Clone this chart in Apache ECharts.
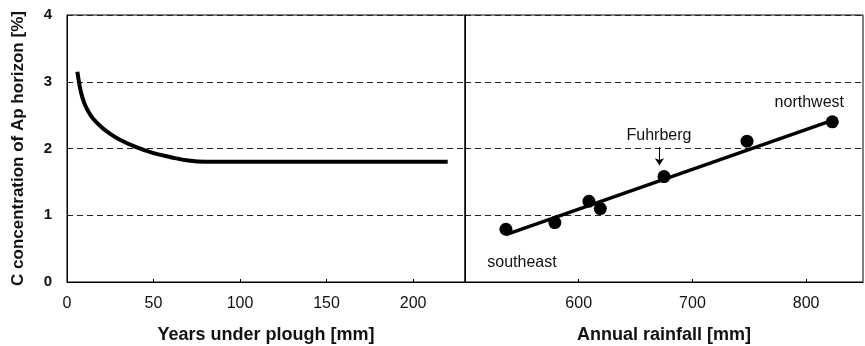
<!DOCTYPE html>
<html>
<head>
<meta charset="utf-8">
<script src="https://cdn.jsdelivr.net/npm/echarts@6/dist/echarts.min.js"></script>
<style>
  html, body { margin: 0; padding: 0; background: #fff; }
  #chart { width: 865px; height: 346px; }
</style>
</head>
<body>
<div id="chart"></div>
<script>
// left panel: C concentration vs years under plough
const ploughYears = [6, 8, 10, 12, 15, 20, 25, 30, 40, 50, 60, 70, 80, 100, 150, 220]
const ploughCarbon = [3.15, 2.85, 2.68, 2.57, 2.45, 2.32, 2.22, 2.14, 2.02, 1.93, 1.87, 1.82, 1.80, 1.80, 1.80, 1.80]

// right panel: C concentration vs annual rainfall
const rainfall = [536, 579, 609, 619, 675, 748, 823]
const rainCarbon = [0.79, 0.89, 1.21, 1.10, 1.58, 2.11, 2.40]
const siteNames = ['southeast', '', '', '', 'Fuhrberg', '', 'northwest']
const fitLine = [[536, 0.71], [823, 2.42]]
const fuhrbergArrow = [[671, 2.02], [671, 1.75]]

const yTicks = ['0', '1', '2', '3', '4']

const FONT = "'Liberation Sans', Arial, sans-serif"

const labelOffsets = {
  southeast: [16, 14],
  Fuhrberg: [-5, -21],
  northwest: [-23, 0],
}

const chart = echarts.init(document.getElementById('chart'), null, { renderer: 'canvas' })

const splitLine = { show: true, lineStyle: { color: '#222', type: [6, 4], width: 1 } }

const scatterData = rainfall.map((x, i) => {
  const name = siteNames[i]
  const item = { value: [x, rainCarbon[i]] }
  if (name) {
    item.label = {
      show: true,
      formatter: name,
      position: name === 'southeast' ? 'bottom' : 'top',
      offset: labelOffsets[name],
    }
  }
  return item
})

const option = {
  backgroundColor: '#fff',
  animation: false,
  textStyle: { fontFamily: FONT },
  grid: [
    { left: 67, top: 15, width: 398, height: 267, show: true, borderColor: '#000', borderWidth: 1, outerBoundsMode: 'none', containLabel: false },
    { left: 465, top: 15, width: 398, height: 267, show: true, borderColor: '#000', borderWidth: 1, outerBoundsMode: 'none', containLabel: false },
  ],
  xAxis: [
    {
      gridIndex: 0, type: 'value', min: 0, max: 230, interval: 50,
      name: 'Years under plough [mm]', nameLocation: 'middle', nameGap: 44,
      nameTextStyle: { fontSize: 18, fontWeight: 'bold', color: '#111', fontFamily: FONT },
      axisLine: { show: true, lineStyle: { color: '#000' } },
      axisTick: { show: true, inside: true, length: 3, lineStyle: { color: '#000' } },
      axisLabel: { fontSize: 16, color: '#111', margin: 14, showMaxLabel: false, fontFamily: FONT },
      splitLine: { show: false },
    },
    {
      gridIndex: 1, type: 'value', min: 500, max: 850, interval: 100,
      name: 'Annual rainfall [mm]', nameLocation: 'middle', nameGap: 44,
      nameTextStyle: { fontSize: 18, fontWeight: 'bold', color: '#111', fontFamily: FONT },
      axisLine: { show: true, lineStyle: { color: '#000' } },
      axisTick: { show: true, inside: true, length: 3, lineStyle: { color: '#000' } },
      axisLabel: { fontSize: 16, color: '#111', margin: 14, showMinLabel: false, showMaxLabel: false, fontFamily: FONT },
      splitLine: { show: false },
    },
  ],
  yAxis: [
    {
      gridIndex: 0, type: 'value', min: 0, max: 4, interval: 1,
      name: 'C concentration of Ap horizon [%]', nameLocation: 'middle', nameGap: 40,
      nameTextStyle: { fontSize: 17, fontWeight: 'bold', color: '#111', fontFamily: FONT },
      axisLine: { show: true, lineStyle: { color: '#000' } },
      axisTick: { show: false },
      axisLabel: {
        fontSize: 15, fontWeight: 'bold', color: '#111', margin: 15, fontFamily: FONT,
        formatter: (v) => yTicks[v] ?? '',
      },
      splitLine,
    },
    {
      gridIndex: 1, type: 'value', min: 0, max: 4, interval: 1,
      axisLine: { show: true, lineStyle: { color: '#000' } },
      axisTick: { show: false },
      axisLabel: { show: false },
      splitLine,
    },
  ],
  series: [
    {
      type: 'line', xAxisIndex: 0, yAxisIndex: 0,
      data: ploughYears.map((x, i) => [x, ploughCarbon[i]]),
      smooth: 0.4, showSymbol: false,
      lineStyle: { color: '#000', width: 4 },
    },
    {
      type: 'line', xAxisIndex: 1, yAxisIndex: 1,
      data: fitLine, showSymbol: false,
      lineStyle: { color: '#000', width: 3.5 },
    },
    {
      type: 'scatter', xAxisIndex: 1, yAxisIndex: 1,
      data: scatterData, symbolSize: 13,
      itemStyle: { color: '#000', opacity: 1 },
      label: { color: '#111', fontSize: 16, fontFamily: FONT },
      z: 5,
    },
    {
      type: 'lines', coordinateSystem: 'cartesian2d', xAxisIndex: 1, yAxisIndex: 1,
      data: [{ coords: fuhrbergArrow }],
      symbol: ['none', 'arrow'], symbolSize: 7,
      lineStyle: { color: '#000', width: 1, opacity: 1 },
    },
  ],
}

chart.setOption(option)
</script>
</body>
</html>
